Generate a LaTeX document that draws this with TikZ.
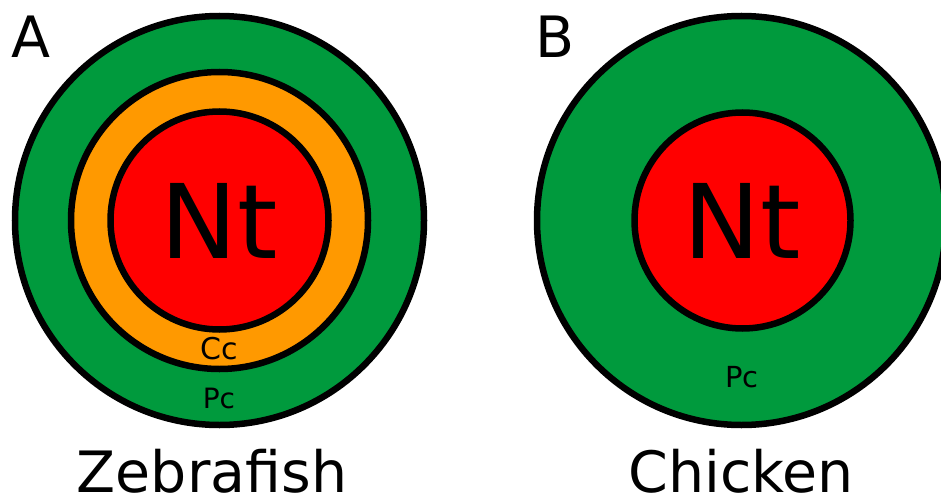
\documentclass[tikz,border=0pt]{standalone}
\usepackage{fontspec}
\setmainfont{DejaVu Sans}
\definecolor{pgreen}{RGB}{0,154,61}
\definecolor{corange}{RGB}{255,153,0}
\definecolor{nred}{RGB}{255,0,0}
\tikzset{
  layer/.style={circle, draw=black, line width=6.5pt, inner sep=0pt},
  lbl/.style={anchor=base, inner sep=0pt, text=black},
  title/.style={lbl, text depth=0pt, font=\fontsize{57}{57}\selectfont},
}
\begin{document}
\begin{tikzpicture}[x=1pt, y=-1pt]
\clip (0,0) rectangle (941,497);
% Panel A
\node[layer, fill=pgreen, minimum size=409pt] (pcA) at (219.5,220.5) {};
\node[layer, fill=corange, minimum size=297pt] (ccA) at (219.5,220.5) {};
\node[layer, fill=nred, minimum size=218pt] (ntA) at (219.5,220.5) {};
\node[lbl, font=\fontsize{103}{103}\selectfont] (ntAt) at (219,258) {Nt};
\node[lbl, font=\fontsize{30}{30}\selectfont] (ccAt) at (219,359) {Cc};
\node[lbl, font=\fontsize{28}{28}\selectfont] (pcAt) at (219,408) {Pc};
\node[title] (lblA) at (31,58) {A};
\node[title] (zf) at (212,492) {Zebrafish};
% Panel B
\node[layer, fill=pgreen, minimum size=409pt] (pcB) at (741.5,220.5) {};
\node[layer, fill=nred, minimum size=216pt] (ntB) at (742.5,220.5) {};
\node[lbl, font=\fontsize{103}{103}\selectfont] (ntBt) at (742,258) {Nt};
\node[lbl, font=\fontsize{29}{29}\selectfont] (pcBt) at (742,387) {Pc};
\node[title] (lblB) at (555,58) {B};
\node[title] (ck) at (741,492) {Chicken};
\end{tikzpicture}
\end{document}
